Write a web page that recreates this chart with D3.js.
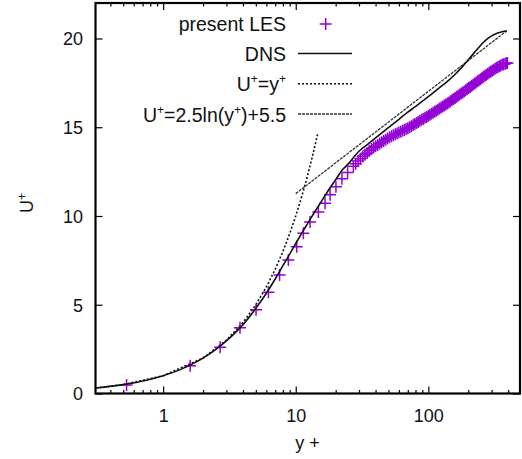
<!DOCTYPE html>
<html><head><meta charset="utf-8">
<script src="https://cdn.jsdelivr.net/npm/d3@7"></script>
<style>body{margin:0;background:#fff}svg text{font-family:"Liberation Sans",Arial,sans-serif;fill:#111}</style>
</head><body>
<script>
// ---- data ----
const lesY = [0.53,1.6,2.69,3.8,5.02,6.22,7.55,8.8,10.17,11.41,12.82,14.81,16.63,18.15,20.1,22.3,24.6,
  27.2,28.35,29.53,30.73,31.97,33.23,34.53,35.85,37.21,38.6,40.02,41.47,42.97,44.49,46.06,47.65,49.29,50.96,
  52.68,54.43,56.24,58.07,59.96,61.88,63.86,65.87,67.95,70.06,72.24,74.45,76.73,79.05,81.44,83.87,86.37,88.92,
  91.54,94.21,96.96,99.76,102.64,105.57,108.59,111.67,114.83,118.06,121.37,124.75,128.22,131.76,135.4,139.11,
  142.92,146.82,150.81,154.89,159.07,163.35,167.73,172.22,176.81,181.51,186.32,191.25,196.29,201.44,206.73,
  212.13,217.68,223.34,229.15,235.11,241.18,247.41,253.78,260.3,266.98,273.82,280.82,288.0,295.33,302.84,
  310.53,318.4,326.46,334.7,343.15,351.8,360.65,369.7,378.98,387,395];
const lesU = [0.48,1.57,2.6,3.7,4.72,5.7,6.67,7.52,8.27,9.03,9.66,10.23,10.72,11.2,11.65,12.1,12.45,
  12.8,12.95,13.1,13.23,13.35,13.45,13.55,13.67,13.78,13.86,13.93,14.0,14.08,14.15,14.22,14.3,14.37,14.43,
  14.49,14.55,14.6,14.65,14.7,14.75,14.8,14.85,14.9,14.95,15.0,15.06,15.12,15.18,15.24,15.3,15.36,15.42,
  15.47,15.53,15.58,15.64,15.7,15.76,15.82,15.88,15.93,15.99,16.05,16.11,16.17,16.23,16.28,16.34,
  16.4,16.47,16.53,16.59,16.65,16.72,16.78,16.84,16.9,16.96,17.02,17.09,17.15,17.21,17.27,
  17.34,17.4,17.46,17.52,17.59,17.65,17.71,17.77,17.84,17.9,17.96,18.02,18.08,18.13,18.19,
  18.24,18.3,18.35,18.4,18.44,18.48,18.52,18.55,18.58,18.6,18.62];
const dnsY = [0.31,0.5,0.75,1,1.5,2,2.5,3,3.5,4,5,6,7,8,9,10,11,12,13,14,16,18,20,22.5,25,30,35,40,50,60,70,80,
  100,120,140,160,180,200,225,250,275,300,330,360,390];
const dnsU = [0.31,0.5,0.75,1.0,1.5,1.99,2.48,2.96,3.43,3.88,4.8,5.65,6.45,7.2,7.85,8.45,8.98,9.45,9.88,10.27,
  10.95,11.55,12.05,12.6,12.95,13.65,14.05,14.4,14.98,15.45,15.85,16.17,16.72,17.2,17.6,18.0,18.4,18.8,19.25,
  19.65,19.95,20.15,20.3,20.38,20.42];
const linY = [0.31,0.5,1,2,3,4,5,6,7,8,9,10,11,12,13,14,14.7];
const linU = [0.31,0.5,1,2,3,4,5,6,7,8,9,10,11,12,13,14,14.7];
const logY = [10,390];
const logU = [11.26,20.43];
const xTickValues = [1,10,100];
const xMinorValues = [0.4,0.5,0.6,0.7,0.8,0.9,2,3,4,5,6,7,8,9,20,30,40,50,60,70,80,90,200,300,400];
const yTickValues = [0,5,10,15,20];
const xTitle = "y +";

// ---- chart ----
const W = 522, H = 459;
const svg = d3.select("body").append("svg").attr("width", W).attr("height", H);
const L = 95.5, R = 520, T = 3, B = 393.5;
const x = d3.scaleLog().domain([0.309, 491]).range([L, R]);
const y = d3.scaleLinear().domain([0, 22]).range([B, T]);

function styleAxis(g){ g.select(".domain").remove(); g.selectAll("line").attr("stroke","#000").attr("stroke-width",1.2); }
const gb = svg.append("g").attr("transform",`translate(0,${B})`)
  .call(d3.axisBottom(x).tickValues(xTickValues).tickSize(-7).tickFormat(d3.format("d"))).call(styleAxis);
gb.selectAll("text").attr("y",28.5).attr("dy",0).attr("font-size",18).attr("font-family",null).attr("fill","#111");
svg.append("g").attr("transform",`translate(0,${B})`)
  .call(d3.axisBottom(x).tickValues(xMinorValues).tickSize(-3.5).tickFormat("")).call(styleAxis);
svg.append("g").attr("transform",`translate(0,${T})`)
  .call(d3.axisTop(x).tickValues(xTickValues).tickSize(-7).tickFormat("")).call(styleAxis);
svg.append("g").attr("transform",`translate(0,${T})`)
  .call(d3.axisTop(x).tickValues(xMinorValues).tickSize(-3.5).tickFormat("")).call(styleAxis);
const gl = svg.append("g").attr("transform",`translate(${L},0)`)
  .call(d3.axisLeft(y).tickValues(yTickValues).tickSize(-7)).call(styleAxis);
gl.selectAll("text").attr("x",-12.5).attr("dy","0.35em").attr("font-size",18).attr("font-family",null).attr("fill","#111");
svg.append("g").attr("transform",`translate(${R},0)`)
  .call(d3.axisRight(y).tickValues(yTickValues).tickSize(-7).tickFormat("")).call(styleAxis);

const line = d3.line().x(d=>x(d[0])).y(d=>y(d[1]));
svg.append("clipPath").attr("id","c").append("rect").attr("x",L).attr("y",T).attr("width",R-L).attr("height",B-T);
const plot = svg.append("g").attr("clip-path","url(#c)");

// U+=y+
plot.append("path").datum(linY.map((v,i)=>[v,linU[i]])).attr("d",line)
  .attr("fill","none").attr("stroke","#111").attr("stroke-width",1.6).attr("stroke-dasharray","2,2");
// log law
plot.append("path").datum(logY.map((v,i)=>[v,logU[i]])).attr("d",line)
  .attr("fill","none").attr("stroke","#333").attr("stroke-width",1.3).attr("stroke-dasharray","3,1");
// LES crosses
const crossPath = "M-6,0H6M0,-6V6";
plot.append("g").selectAll("path").data(lesY.map((v,i)=>[v,lesU[i]])).join("path")
  .attr("d",crossPath).attr("transform",d=>`translate(${x(d[0])},${y(d[1])})`)
  .attr("fill","none").attr("stroke","#9400d3").attr("stroke-width",1.5);
// DNS
plot.append("path").datum(dnsY.map((v,i)=>[v,dnsU[i]])).attr("d",line.curve(d3.curveMonotoneX))
  .attr("fill","none").attr("stroke","#111").attr("stroke-width",1.6);

// frame
svg.append("rect").attr("x",L).attr("y",T).attr("width",R-L).attr("height",B-T)
  .attr("fill","none").attr("stroke","#000").attr("stroke-width",2.2);

// axis titles
svg.append("text").attr("x",307.5).attr("y",449).attr("text-anchor","middle").attr("font-size",18).text(xTitle);
const yl = svg.append("text").attr("transform","translate(33,203) rotate(-90)").attr("text-anchor","middle").attr("font-size",18);
yl.append("tspan").text("U");
yl.append("tspan").attr("dy",-7).attr("font-size",12).text("+");

// legend
const lg = svg.append("g").attr("font-size",19.5);
const lx = 286, sx0 = 298, sx1 = 352;
const rows = [31, 61, 91.3, 121.5];
lg.append("text").attr("x",lx).attr("y",rows[0]).attr("text-anchor","end").text("present LES");
lg.append("path").attr("d",crossPath).attr("transform",`translate(325.7,${rows[0]-7})`)
  .attr("stroke","#9400d3").attr("stroke-width",1.5).attr("fill","none");
lg.append("text").attr("x",lx).attr("y",rows[1]).attr("text-anchor","end").text("DNS");
lg.append("line").attr("x1",sx0).attr("x2",sx1).attr("y1",rows[1]-7.5).attr("y2",rows[1]-7.5).attr("stroke","#111").attr("stroke-width",1.6);
const t3 = lg.append("text").attr("x",lx).attr("y",rows[2]).attr("text-anchor","end");
t3.append("tspan").text("U");
t3.append("tspan").attr("dy",-8).attr("font-size",12).text("+");
t3.append("tspan").attr("dy",8).text("=y");
t3.append("tspan").attr("dy",-8).attr("font-size",12).text("+");
lg.append("line").attr("x1",sx0).attr("x2",sx1).attr("y1",rows[2]-7.5).attr("y2",rows[2]-7.5).attr("stroke","#111").attr("stroke-width",1.6).attr("stroke-dasharray","2,2");
const t4 = lg.append("text").attr("x",lx).attr("y",rows[3]).attr("text-anchor","end");
t4.append("tspan").text("U");
t4.append("tspan").attr("dy",-8).attr("font-size",12).text("+");
t4.append("tspan").attr("dy",8).text("=2.5ln(y");
t4.append("tspan").attr("dy",-8).attr("font-size",12).text("+");
t4.append("tspan").attr("dy",8).text(")+5.5");
lg.append("line").attr("x1",sx0).attr("x2",sx1).attr("y1",rows[3]-7.5).attr("y2",rows[3]-7.5).attr("stroke","#333").attr("stroke-width",1.3).attr("stroke-dasharray","3,1");
</script>
</body></html>
